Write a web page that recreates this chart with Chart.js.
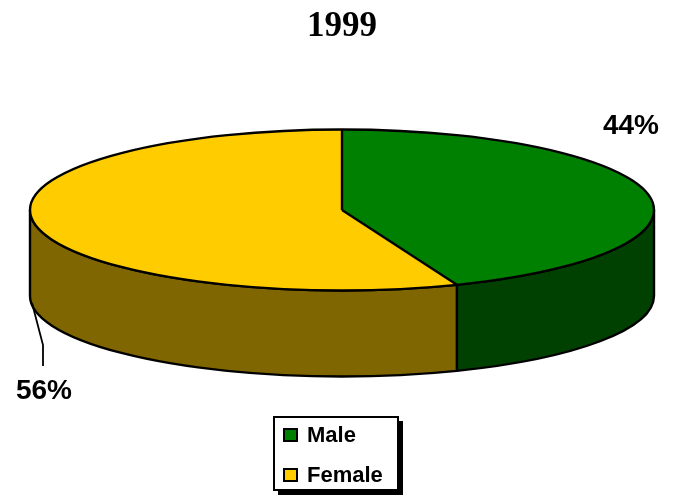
<!DOCTYPE html>
<html>
<head>
<meta charset="utf-8">
<script src="https://cdn.jsdelivr.net/npm/chart.js@4/dist/chart.umd.min.js"></script>
<style>
  body { margin: 0; background: #fff; }
</style>
</head>
<body>
<canvas id="canvas" width="680" height="500"></canvas>
<script>
const titleText = '1999';
const labels = ['Male', 'Female'];
const values = [44, 56];
const topColors = ['#008000', '#FFCC00'];
const sideColors = ['#004000', '#806600'];

// ellipse size of the top face and depth of the side wall
const RX = 312, RY = 80.5, DEPTH = 86;

const pie3d = {
    id: 'pie3d',
    beforeDatasetsDraw(chart) {
        const ctx = chart.ctx;
        const arcs = chart.getDatasetMeta(0).data;
        const cx = arcs[0].x, cy = arcs[0].y, r = arcs[0].outerRadius;

        // front side walls
        ctx.save();
        ctx.lineWidth = 2.4;
        ctx.strokeStyle = '#000';
        ctx.lineJoin = 'round';
        arcs.forEach((arc, i) => {
            const s = Math.max(arc.startAngle, 0);
            const e = Math.min(arc.endAngle, Math.PI);
            if (e <= s) return;
            ctx.beginPath();
            ctx.ellipse(cx, cy, RX, RY, 0, s, e);
            ctx.ellipse(cx, cy + DEPTH, RX, RY, 0, e, s, true);
            ctx.closePath();
            ctx.fillStyle = sideColors[i];
            ctx.fill();
            ctx.stroke();
        });
        ctx.restore();

        // squash the round pie into the top face
        ctx.save();
        ctx.translate(cx, cy);
        ctx.scale(RX / r, RY / r);
        ctx.translate(-cx, -cy);
    },
    afterDatasetsDraw(chart) {
        const ctx = chart.ctx;
        ctx.restore();
        const arcs = chart.getDatasetMeta(0).data;
        const cx = arcs[0].x, cy = arcs[0].y;

        ctx.save();
        ctx.lineWidth = 2.4;
        ctx.strokeStyle = '#000';
        ctx.beginPath();
        ctx.ellipse(cx, cy, RX, RY, 0, 0, Math.PI * 2);
        ctx.stroke();
        arcs.forEach(arc => {
            ctx.beginPath();
            ctx.moveTo(cx, cy);
            ctx.lineTo(cx + RX * Math.cos(arc.startAngle), cy + RY * Math.sin(arc.startAngle));
            ctx.stroke();
        });
        ctx.restore();
    },
    afterDraw(chart) {
        const ctx = chart.ctx;
        const data = chart.data.datasets[0].data;
        const sum = data.reduce((a, b) => a + b, 0);
        const pct = data.map(v => Math.round(v / sum * 100) + '%');

        ctx.save();
        // percentage labels
        ctx.fillStyle = '#000';
        ctx.font = 'bold 28px "Liberation Sans", Arial, sans-serif';
        ctx.textAlign = 'center';
        ctx.textBaseline = 'middle';
        ctx.fillText(pct[0], 631, 126);
        ctx.fillText(pct[1], 44, 391);

        // leader line for the left label
        ctx.lineWidth = 1.8;
        ctx.strokeStyle = '#000';
        ctx.beginPath();
        ctx.moveTo(32, 303);
        ctx.lineTo(43, 345);
        ctx.lineTo(43, 366);
        ctx.stroke();

        // legend with shadow
        const bx = 274, by = 417, bw = 124, bh = 73;
        ctx.fillStyle = '#000';
        ctx.fillRect(bx + 4, by + 4, bw + 1, bh + 1);
        ctx.fillStyle = '#fff';
        ctx.fillRect(bx, by, bw, bh);
        ctx.lineWidth = 2;
        ctx.strokeRect(bx, by, bw, bh);

        ctx.font = 'bold 22px "Liberation Sans", Arial, sans-serif';
        ctx.textAlign = 'left';
        chart.data.labels.forEach((lab, i) => {
            const y = 435 + i * 40;
            ctx.fillStyle = chart.data.datasets[0].backgroundColor[i];
            ctx.fillRect(284, y - 6, 13, 12);
            ctx.strokeStyle = '#000';
            ctx.lineWidth = 2;
            ctx.strokeRect(284, y - 6, 13, 12);
            ctx.fillStyle = '#000';
            ctx.fillText(lab, 307, y + 1);
        });
        ctx.restore();
    }
};

new Chart(document.getElementById('canvas'), {
    type: 'pie',
    data: {
        labels: labels,
        datasets: [{
            data: values,
            backgroundColor: topColors,
            borderWidth: 0,
            clip: false
        }]
    },
    options: {
        responsive: false,
        animation: false,
        events: [],
        layout: {
            padding: { left: 192, right: 188, top: 0, bottom: 140 }
        },
        plugins: {
            legend: { display: false },
            tooltip: { enabled: false },
            title: {
                display: true,
                text: titleText,
                color: '#000',
                font: { family: '"Liberation Serif", "Times New Roman", serif', size: 35, weight: 'bold' },
                padding: { top: 6, bottom: 12 }
            }
        }
    },
    plugins: [pie3d]
});
</script>
</body>
</html>
